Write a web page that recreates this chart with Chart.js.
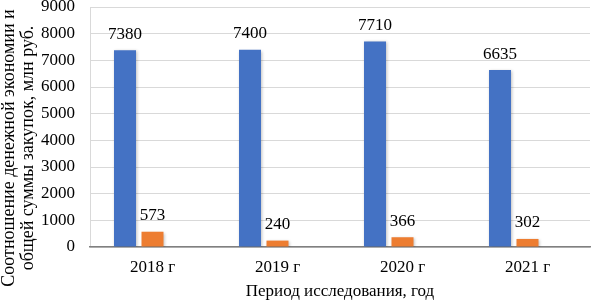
<!DOCTYPE html>
<html>
<head>
<meta charset="utf-8">
<script src="https://cdn.jsdelivr.net/npm/chart.js@4"></script>
<style>
  html, body { margin: 0; padding: 0; background: #fff; }
  #wrap { width: 592px; height: 302px; position: relative; }
</style>
</head>
<body>
<div id="wrap"><canvas id="chart"></canvas></div>
<script>
// data
const years = ['2018 г', '2019 г', '2020 г', '2021 г'];
const totalSum = [7380, 7400, 7710, 6635];
const savings = [573, 240, 366, 302];
// the original has a third, empty series that shifts the bars left
const emptySeries = [null, null, null, null];
const yTitle = ['Соотношение денежной экономии и', 'общей суммы закупок, млн руб.'];
const xTitle = 'Период исследования, год';

const FONT = '"Liberation Serif", "Times New Roman", serif';

// numbers above the bars
const valueLabels = {
	id: 'valueLabels',
	afterDatasetsDraw(chart) {
		const ctx = chart.ctx;
		ctx.save();
		ctx.font = '17px ' + FONT;
		ctx.fillStyle = '#000';
		ctx.textAlign = 'center';
		ctx.textBaseline = 'middle';
		chart.data.datasets.forEach((ds, i) => {
			chart.getDatasetMeta(i).data.forEach((bar, j) => {
				if (ds.data[j] == null) return;
				ctx.fillText(String(ds.data[j]), bar.x, bar.y - 16);
			});
		});
		ctx.restore();
	}
};

// rotated two-line y axis title
const yAxisTitle = {
	id: 'yAxisTitle',
	afterDraw(chart) {
		const ctx = chart.ctx;
		ctx.save();
		ctx.font = '18px ' + FONT;
		ctx.fillStyle = '#000';
		ctx.textAlign = 'center';
		ctx.textBaseline = 'middle';
		ctx.translate(0, 148);
		ctx.rotate(-Math.PI / 2);
		ctx.fillText(yTitle[0], 0, 9);
		ctx.fillText(yTitle[1], 0, 28);
		ctx.restore();
	}
};

// soft shadow behind bars
const barShadow = {
	id: 'barShadow',
	beforeDatasetsDraw(chart) {
		const ctx = chart.ctx;
		ctx.save();
		ctx.shadowColor = 'rgba(0,0,0,0.25)';
		ctx.shadowBlur = 3;
		ctx.shadowOffsetX = 1;
		ctx.shadowOffsetY = 1;
	},
	afterDatasetsDraw(chart) {
		chart.ctx.restore();
	}
};

new Chart(document.getElementById('chart'), {
	type: 'bar',
	data: {
		labels: years,
		datasets: [
			{
				label: 'Общая сумма закупок',
				data: totalSum,
				backgroundColor: '#4472C4',
				barPercentage: 0.8,
				categoryPercentage: 0.66
			},
			{
				label: 'Денежная экономия',
				data: savings,
				backgroundColor: '#ED7D31',
				barPercentage: 0.8,
				categoryPercentage: 0.66
			},
			{
				label: '',
				data: emptySeries,
				backgroundColor: '#A5A5A5',
				barPercentage: 0.8,
				categoryPercentage: 0.66
			}
		]
	},
	plugins: [barShadow, valueLabels, yAxisTitle],
	options: {
		responsive: true,
		maintainAspectRatio: false,
		animation: false,
		layout: { padding: { top: 7, right: 2, left: 0, bottom: 0 } },
		plugins: {
			legend: { display: false },
			tooltip: { enabled: false }
		},
		scales: {
			y: {
				min: 0,
				max: 9000,
				afterFit(scale) {
					scale.width = 90;
					scale.paddingTop = 0;
					scale.paddingBottom = 0;
				},
				ticks: {
					stepSize: 1000,
					padding: 15,
					color: '#000',
					font: { family: FONT, size: 17 },
					callback: (v) => String(v)
				},
				grid: { color: '#d9d9d9', drawTicks: false },
				border: { display: true, color: '#d9d9d9' }
			},
			x: {
				afterFit(scale) {
					scale.height = 55;
					scale.paddingLeft = 0;
					scale.paddingRight = 0;
				},
				ticks: {
					padding: 10,
					color: '#000',
					font: { family: FONT, size: 17 }
				},
				grid: { display: false, drawTicks: false },
				border: { display: true, color: '#808080', width: 1.5 },
				title: {
					display: true,
					text: xTitle,
					color: '#000',
					font: { family: FONT, size: 17 },
					padding: { top: 2, bottom: 0 }
				}
			}
		}
	}
});
</script>
</body>
</html>
